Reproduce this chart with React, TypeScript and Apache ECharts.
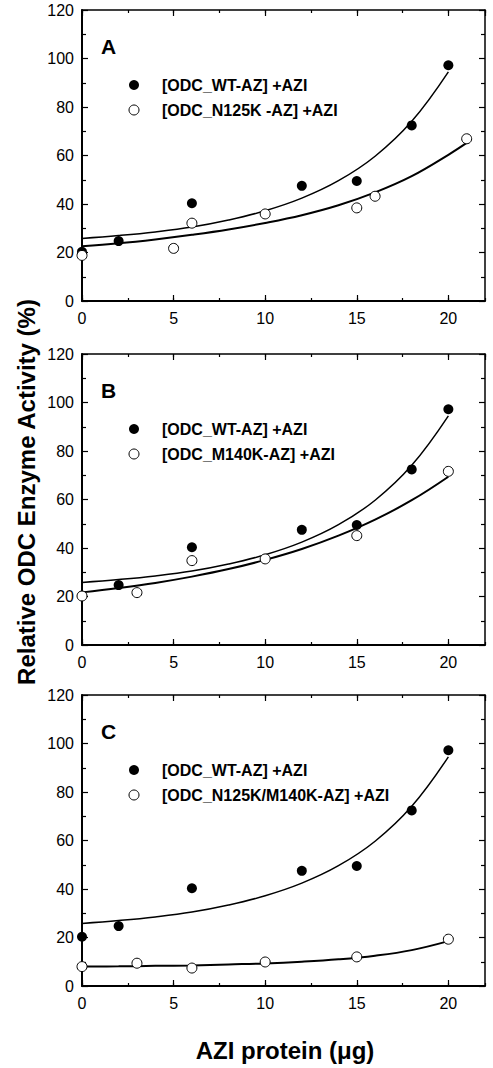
import React, { useEffect, useRef } from "react";
import * as echarts from "echarts";

// ---- data ----
const wtX = [0, 2, 6, 12, 15, 18, 20];
const wtY = [20.3, 24.7, 40.3, 47.5, 49.5, 72.4, 97.2];

const n125kX = [0, 5, 6, 10, 15, 16, 21];
const n125kY = [18.8, 21.7, 32.1, 35.9, 38.4, 43.2, 66.9];

const m140kX = [0, 3, 6, 10, 15, 20];
const m140kY = [20.2, 21.6, 34.8, 35.5, 45.1, 71.6];

const dblX = [0, 3, 6, 10, 15, 20];
const dblY = [8.0, 9.4, 7.4, 9.9, 12.0, 19.3];

// fitted curves
const fitX = [0, 2, 4, 6, 8, 10, 12, 14, 16, 18, 20];
const wtFit = [25.8, 27.0, 28.5, 30.5, 33.4, 37.2, 42.4, 49.6, 59.7, 74.1, 94.5];
const n125kFitX = [0, 2, 4, 6, 8, 10, 12, 14, 16, 18, 20, 21];
const n125kFit = [22.6, 23.8, 25.4, 27.3, 29.5, 32.2, 35.4, 39.5, 44.8, 51.5, 60.3, 65.2];
const m140kFit = [21.7, 23.5, 25.6, 28.2, 31.3, 35.1, 39.6, 45.1, 51.7, 59.7, 69.4];
const dblFit = [8.0, 8.1, 8.3, 8.5, 8.9, 9.3, 10.0, 11.0, 12.5, 14.8, 18.5];

const panelLetters = ["A", "B", "C"];
const wtName = "[ODC_WT-AZ] +AZI";
const mutNames = ["[ODC_N125K -AZ] +AZI", "[ODC_M140K-AZ] +AZI", "[ODC_N125K/M140K-AZ] +AZI"];
const yTitle = "Relative ODC Enzyme Activity (%)";
const xTitle = "AZI protein (\u03bcg)";

const xMax = 22;
const yMax = 120;

const zip = (xs: number[], ys: number[]) => xs.map((x, i) => [x, ys[i]]);

const mutPoints = [zip(n125kX, n125kY), zip(m140kX, m140kY), zip(dblX, dblY)];
const mutFits = [zip(n125kFitX, n125kFit), zip(fitX, m140kFit), zip(fitX, dblFit)];
const wtPoints = zip(wtX, wtY);
const wtCurve = zip(fitX, wtFit);

// ---- layout ----
const FONT = "'Liberation Sans', Arial, Helvetica, sans-serif";
const gridTops = [10, 354, 695];
const gridHeight = 291;
const gridLeft = 82;
const gridWidth = 403;

export default function App() {
  const ref = useRef<HTMLDivElement>(null);

  useEffect(() => {
    if (!ref.current) return;
    const chart = echarts.init(ref.current, null, { renderer: "svg" });

    const grids: any[] = [];
    const xAxes: any[] = [];
    const yAxes: any[] = [];
    const series: any[] = [];
    const graphics: any[] = [];

    gridTops.forEach((top, i) => {
      grids.push({
        left: gridLeft,
        top,
        width: gridWidth,
        height: gridHeight,
        containLabel: false,
        outerBoundsMode: "none",
      });
      const xBase = {
        gridIndex: i,
        type: "value",
        min: 0,
        max: xMax,
        splitLine: { show: false },
      };
      // bottom major (with labels)
      xAxes.push({
        ...xBase,
        position: "bottom",
        interval: 5,
        axisLine: { show: true, onZero: false, lineStyle: { color: "#000", width: 2 } },
        axisTick: { show: true, inside: true, length: 6, lineStyle: { color: "#000", width: 1.2 } },
        axisLabel: {
          show: true,
          fontSize: 16,
          color: "#000",
          fontFamily: FONT,
          margin: 9,
          showMaxLabel: false,
          formatter: (v: number) => (v % 5 === 0 ? String(v) : ""),
        },
      });
      // bottom minor
      xAxes.push({
        ...xBase,
        position: "bottom",
        interval: 2.5,
        axisLine: { show: false, onZero: false },
        axisTick: { show: true, inside: true, length: 3, lineStyle: { color: "#000", width: 1.2 } },
        axisLabel: { show: false },
      });
      // top major
      xAxes.push({
        ...xBase,
        position: "top",
        interval: 5,
        axisLine: { show: true, onZero: false, lineStyle: { color: "#000", width: 1.5 } },
        axisTick: { show: true, inside: true, length: 6, lineStyle: { color: "#000", width: 1.2 } },
        axisLabel: { show: false },
      });
      // top minor
      xAxes.push({
        ...xBase,
        position: "top",
        interval: 2.5,
        axisLine: { show: false, onZero: false },
        axisTick: { show: true, inside: true, length: 3, lineStyle: { color: "#000", width: 1.2 } },
        axisLabel: { show: false },
      });

      const yBase = {
        gridIndex: i,
        type: "value",
        min: 0,
        max: yMax,
        interval: 20,
        splitLine: { show: false },
        minorSplitLine: { show: false },
        axisTick: { show: true, inside: true, length: 6, lineStyle: { color: "#000", width: 1.2 } },
        minorTick: { show: true, splitNumber: 2, length: 4, lineStyle: { color: "#000", width: 1.2 } },
      };
      yAxes.push({
        ...yBase,
        position: "left",
        axisLine: { show: true, onZero: false, lineStyle: { color: "#000", width: 2 } },
        axisLabel: { show: true, fontSize: 16, color: "#000", fontFamily: FONT, margin: 8 },
      });
      yAxes.push({
        ...yBase,
        position: "right",
        axisLine: { show: true, onZero: false, lineStyle: { color: "#000", width: 1.5 } },
        axisLabel: { show: false },
      });

      const xi = i * 4;
      const yi = i * 2;
      series.push({
        type: "line",
        name: "wt-fit-" + i,
        xAxisIndex: xi,
        yAxisIndex: yi,
        data: wtCurve,
        smooth: 0.4,
        showSymbol: false,
        symbol: "none",
        silent: true,
        lineStyle: { color: "#000", width: 1.5, opacity: 1 },
        z: 2,
      });
      series.push({
        type: "line",
        name: "mut-fit-" + i,
        xAxisIndex: xi,
        yAxisIndex: yi,
        data: mutFits[i],
        smooth: 0.4,
        showSymbol: false,
        symbol: "none",
        silent: true,
        lineStyle: { color: "#000", width: 2, opacity: 1 },
        z: 2,
      });
      series.push({
        type: "scatter",
        name: wtName,
        xAxisIndex: xi,
        yAxisIndex: yi,
        data: wtPoints,
        symbol: "circle",
        symbolSize: 10,
        silent: true,
        itemStyle: { color: "#000", opacity: 1 },
        z: 3,
      });
      series.push({
        type: "scatter",
        name: mutNames[i],
        xAxisIndex: xi,
        yAxisIndex: yi,
        data: mutPoints[i],
        symbol: "circle",
        symbolSize: 10,
        silent: true,
        itemStyle: { color: "#fff", borderColor: "#000", borderWidth: 1, opacity: 1 },
        z: 4,
      });

      // panel letter
      graphics.push({
        type: "text",
        x: 101,
        y: top + 36,
        style: {
          text: panelLetters[i],
          font: `bold 21px ${FONT}`,
          fill: "#000",
          verticalAlign: "middle",
        },
        z: 10,
      });
      // legend
      const legY1 = top + 75;
      const legY2 = top + 100;
      graphics.push({
        type: "circle",
        shape: { cx: 134, cy: legY1, r: 5 },
        style: { fill: "#000" },
        z: 10,
      });
      graphics.push({
        type: "circle",
        shape: { cx: 134, cy: legY2, r: 5 },
        style: { fill: "#fff", stroke: "#000", lineWidth: 1 },
        z: 10,
      });
      graphics.push({
        type: "text",
        x: 162,
        y: legY1,
        style: { text: wtName, font: `bold 16px ${FONT}`, fill: "#000", verticalAlign: "middle" },
        z: 10,
      });
      graphics.push({
        type: "text",
        x: 162,
        y: legY2,
        style: { text: mutNames[i], font: `bold 16px ${FONT}`, fill: "#000", verticalAlign: "middle" },
        z: 10,
      });
    });

    graphics.push({
      type: "text",
      x: 26,
      y: 492,
      rotation: Math.PI / 2,
      style: {
        text: yTitle,
        font: `bold 24px ${FONT}`,
        fill: "#000",
        align: "center",
        verticalAlign: "middle",
      },
    });
    graphics.push({
      type: "text",
      x: 285,
      y: 1050,
      style: {
        text: xTitle,
        font: `bold 24px ${FONT}`,
        fill: "#000",
        align: "center",
        verticalAlign: "middle",
      },
    });

    chart.setOption({
      animation: false,
      backgroundColor: "#fff",
      grid: grids,
      xAxis: xAxes,
      yAxis: yAxes,
      series,
      graphic: graphics,
    });

    return () => chart.dispose();
  }, []);

  return (
    <div
      ref={ref}
      style={{ position: "fixed", left: 0, top: 0, width: 493, height: 1068, background: "#fff" }}
    />
  );
}
